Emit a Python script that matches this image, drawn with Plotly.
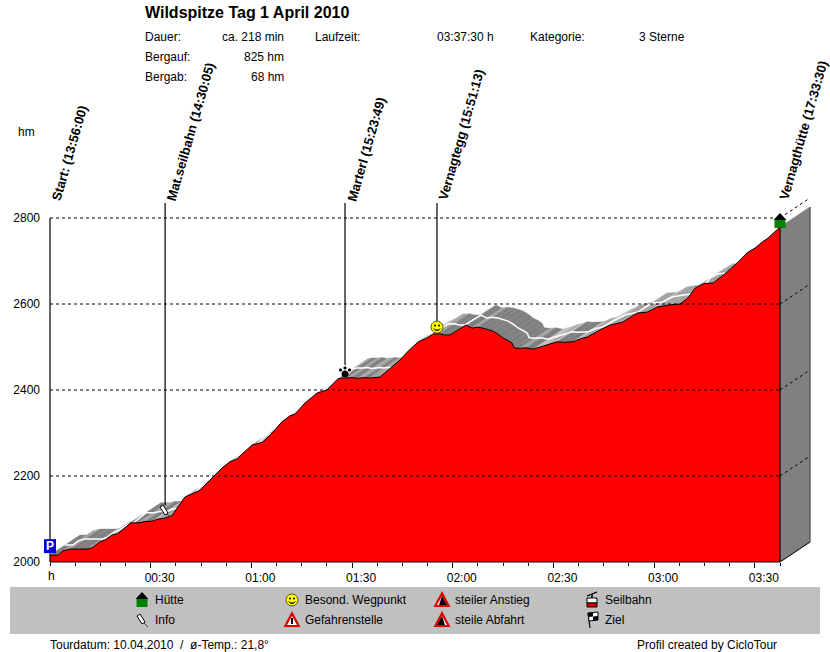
import math
import plotly.graph_objects as go

W, H = 830, 652
PXMIN = 730 / 217.5
PXM = 0.43

# --- data ---
minutes = [0, 2.4, 3.9, 6.0, 8.3, 11.0, 12.5, 14.9, 16.5, 18.5, 20.2, 21.8, 24.1, 26.2, 28.3, 30.4, 32.2, 34.3,
           36.4, 40.2, 42.3, 44.7, 48.6, 51.3, 53.6, 55.7, 57.5, 60.2, 63.5, 66.4, 69.1, 71.5, 73.0, 76.0,
           79.6, 82.5, 85.8, 87.0, 88.5, 90.0, 91.5, 92.4, 93.8, 95.0, 96.6, 98.3, 104.3, 106.4, 109.7, 112.0, 114.1,
           116.0, 117.5, 119.2, 121.6, 124.0, 125.7, 127.3, 129.0, 130.5, 132.0, 133.5, 135.0, 136.5, 137.7, 138.3,
           140.0, 141.8, 143.9, 146.0, 148.1, 149.5, 151.1, 153.0, 155.8, 158.0, 160.0, 163.9, 166.9, 170.7,
           174.9, 177.9, 180.9, 184.7, 187.7, 190.1, 192.2, 194.6, 197.6, 201.7, 204.7, 207.7, 210.1, 212.2,
           213.9, 217.5]
heights = [2016, 2016, 2026, 2030, 2030, 2030, 2033, 2047, 2052, 2063, 2066, 2077, 2091, 2091, 2094, 2095, 2100, 2102,
           2109, 2151, 2158, 2167, 2198, 2219, 2233, 2240, 2253, 2272, 2279, 2302, 2326, 2340, 2344, 2370,
           2393, 2400, 2426, 2428, 2428, 2429, 2427, 2428, 2429, 2428, 2429, 2430, 2470, 2488, 2512, 2520, 2530,
           2531, 2528, 2528, 2540, 2551, 2544, 2546, 2544, 2541, 2537, 2530, 2521, 2515, 2509, 2498,
           2497, 2498, 2495, 2500, 2505, 2508, 2512, 2511, 2512, 2519, 2523, 2540, 2551, 2558,
           2579, 2581, 2593, 2598, 2600, 2614, 2637, 2647, 2649, 2674, 2695, 2719, 2730, 2744,
           2753, 2779]
grid_heights = [2200, 2400, 2600, 2800]
y_ticks = [2000, 2200, 2400, 2600, 2800]
x_tick_vals = [30, 60, 90, 120, 150, 180, 210]
x_tick_labels = ["00:30", "01:00", "01:30", "02:00", "02:30", "03:00", "03:30"]
minor_ticks = [7.5 * i for i in range(0, 30)]
way_names = ["Start: (13:56:00)", "Mat.seilbahn (14:30:05)", "Marterl (15:23:49)",
             "Vernagtegg (15:51:13)", "Vernagthütte (17:33:30)"]
way_minutes = [0, 34.3, 87.9, 115.3, 217.5]
way_heights = [2016, 2102, 2428, 2530, 2779]

# perspective depth of the 3D surface, in axis units
DX = 30 / PXMIN
DY = 20 / PXM


def px(x):
    return x / W


def py(y):
    return 1 - y / H


def poly(pts):
    return "M" + " L".join(f"{a:.2f},{-b:.2f}" for a, b in pts) + " Z"


def circ(cx, cy, r, n=18):
    return poly([(cx + r * math.cos(2 * math.pi * i / n), cy + r * math.sin(2 * math.pi * i / n)) for i in range(n)])


# icon parts: (path in pixel offsets, y down; fill; line colour; line width)
ICONS = {
    "hut": [(poly([(0, -7), (6.5, 0), (-6.5, 0)]), "black", "black", 0),
            (poly([(-5.5, 0), (5.5, 0), (5.5, 8), (-5.5, 8)]), "#008000", "#008000", 0)],
    "smile": [(circ(0, 0, 6), "#ffff00", "#555500", 1),
              (circ(-2, -1.5, 1), "black", "black", 0),
              (circ(2, -1.5, 1), "black", "black", 0),
              (poly([(-3.5, 1.5), (-1.5, 3.5), (1.5, 3.5), (3.5, 1.5), (1.5, 2.7), (-1.5, 2.7)]), "black", "black", 0.5)],
    "paw": [(circ(0, 2, 3.5), "black", "black", 0),
            (circ(-4.5, -2, 1.6), "black", "black", 0),
            (circ(0, -4, 1.6), "black", "black", 0),
            (circ(4.5, -2, 1.6), "black", "black", 0)],
    "info": [(poly([(-5, -4), (-2, -6), (3, 2), (0, 4)]), "white", "black", 1),
             (poly([(2, 3), (6, 7), (2, 3)]), "black", "#444444", 1)],
    "danger": [(poly([(0, -9), (8.5, 7), (-8.5, 7)]), "#e00000", "#e00000", 0),
               (poly([(0, -4), (5, 5), (-5, 5)]), "white", "white", 0),
               (poly([(-1, -2), (1, -2), (1, 4), (-1, 4)]), "black", "black", 0)],
    "up": [(poly([(0, -9), (8.5, 7), (-8.5, 7)]), "#e00000", "#e00000", 0),
           (poly([(0, -4), (5, 5), (-5, 5)]), "white", "white", 0),
           (poly([(0, -4), (5, 5), (-3, 5)]), "black", "black", 0)],
    "down": [(poly([(0, -9), (8.5, 7), (-8.5, 7)]), "#e00000", "#e00000", 0),
             (poly([(0, -4), (5, 5), (-5, 5)]), "white", "white", 0),
             (poly([(0, -4), (3, 5), (-5, 5)]), "black", "black", 0)],
    "cable": [(poly([(-5, -4), (5, -8), (-5, -4)]), "black", "black", 1),
              (poly([(0, -6), (0, -2), (0, -6)]), "black", "black", 1),
              (poly([(-5, -2), (5, -2), (5, 3), (-5, 3)]), "white", "black", 1),
              (poly([(-5, 3), (5, 3), (5, 7), (-5, 7)]), "#e00000", "black", 1)],
    "flag": [(poly([(-4, -7), (-2, 8), (-4, -7)]), "black", "black", 1.2),
             (poly([(-4, -7), (6, -8), (6, 0), (-3, 1)]), "white", "black", 1),
             (poly([(-4, -7), (1, -7.5), (1, -3.5), (-3.5, -3)]), "black", "black", 0),
             (poly([(1, -3.5), (6, -4), (6, 0), (1, 0.5)]), "black", "black", 0)],
}


def icon(kind, xa, ya, xref="x", yref="y", dx=0, dy=0):
    out = []
    for path, fill, line, lw in ICONS[kind]:
        parts = []
        for tok in path.split(" "):
            head = tok[0] if tok[0] in "MLZ" else ""
            if tok == "Z":
                parts.append("Z")
                continue
            a, b = tok.lstrip("ML").split(",")
            parts.append(f"{head}{float(a) + dx:.2f},{float(b) + dy:.2f}")
        out.append(dict(type="path", xsizemode="pixel", ysizemode="pixel", xanchor=xa, yanchor=ya,
                        xref=xref, yref=yref, path=" ".join(parts), fillcolor=fill,
                        line=dict(color=line, width=lw), layer="above"))
    return out


fig = go.Figure()

# facets of the 3D surface behind the profile
for i in range(len(minutes) - 1):
    t0, t1 = minutes[i], minutes[i + 1]
    h0, h1 = heights[i], heights[i + 1]
    slope = (h1 - h0) / (t1 - t0)
    col = "#808080" if slope <= 0.5 else ("#a4a4a4" if slope < 2.2 else "#c0c0c0")
    fig.add_trace(go.Scatter(x=[t0, t1, t1 + DX, t0 + DX, t0], y=[h0, h1, h1 + DY, h0 + DY, h0],
                             mode="lines", fill="toself", fillcolor=col,
                             line=dict(color=col, width=0.4), hoverinfo="skip", showlegend=False))
# path in the middle of the surface
fig.add_trace(go.Scatter(x=[t + DX / 2 for t in minutes], y=[h + DY / 2 for h in heights], mode="lines",
                         line=dict(color="white", width=1.5), hoverinfo="skip", showlegend=False))
# side wall
fig.add_trace(go.Scatter(x=[minutes[-1], minutes[-1] + DX, minutes[-1] + DX, minutes[-1], minutes[-1]],
                         y=[y_ticks[0], y_ticks[0] + DY, heights[-1] + DY, heights[-1], y_ticks[0]],
                         mode="lines", fill="toself", fillcolor="#808080", line=dict(color="#808080", width=0.5),
                         hoverinfo="skip", showlegend=False))
# profile
fig.add_trace(go.Scatter(x=minutes, y=[y_ticks[0]] * len(minutes), mode="lines", line=dict(width=0),
                         hoverinfo="skip", showlegend=False))
fig.add_trace(go.Scatter(x=minutes, y=heights, mode="lines", fill="tonexty", fillcolor="#ff0000",
                         line=dict(color="black", width=1), showlegend=False))

shapes = []
LW = 1.2
# axes and wall edges
shapes.append(dict(type="line", x0=0, x1=0, y0=y_ticks[0], y1=y_ticks[-1], line=dict(color="black", width=LW)))
shapes.append(dict(type="line", x0=0, x1=minutes[-1], y0=y_ticks[0], y1=y_ticks[0], line=dict(color="black", width=LW)))
shapes.append(dict(type="line", x0=minutes[-1], x1=minutes[-1], y0=y_ticks[0], y1=heights[-1],
                   line=dict(color="black", width=LW)))
shapes.append(dict(type="line", x0=minutes[-1], x1=minutes[-1] + DX, y0=y_ticks[0], y1=y_ticks[0] + DY,
                   line=dict(color="black", width=1)))
shapes.append(dict(type="line", x0=minutes[-1] + DX, x1=minutes[-1] + DX, y0=y_ticks[0] + DY, y1=heights[-1] + DY,
                   line=dict(color="#404040", width=1)))
# grid
for g in grid_heights:
    shapes.append(dict(type="line", x0=0, x1=minutes[-1], y0=g, y1=g,
                       line=dict(color="black", width=1, dash="3px,3px")))
    shapes.append(dict(type="line", x0=minutes[-1], x1=minutes[-1] + DX, y0=g, y1=g + DY,
                       line=dict(color="black", width=1, dash="3px,3px")))
# leader lines to waypoints
for t, h in zip(way_minutes[1:4], way_heights[1:4]):
    shapes.append(dict(type="line", x0=t, x1=t, y0=h + 30, y1=2835, line=dict(color="black", width=LW)))

shapes += icon("info", way_minutes[1], way_heights[1], dy=7)
shapes += icon("paw", way_minutes[2], way_heights[2], dy=6)
shapes += icon("smile", way_minutes[3], way_heights[3], dy=7)
shapes += icon("hut", way_minutes[4], way_heights[4], dy=7)
# P marker
shapes.append(dict(type="rect", xsizemode="pixel", ysizemode="pixel", xanchor=way_minutes[0], yanchor=way_heights[0],
                   x0=-6, x1=6, y0=2, y1=16, fillcolor="#0000d8", line=dict(width=0), layer="above"))

# legend panel
shapes.append(dict(type="rect", xref="paper", yref="paper", x0=px(10), x1=px(820), y0=py(634), y1=py(587),
                   fillcolor="#c0c0c0", line=dict(width=0), layer="below"))
legend_items = [("hut", "Hütte", 142, 600), ("info", "Info", 142, 620),
                ("smile", "Besond. Wegpunkt", 292, 600), ("danger", "Gefahrenstelle", 292, 620),
                ("up", "steiler Anstieg", 442, 600), ("down", "steile Abfahrt", 442, 620),
                ("cable", "Seilbahn", 592, 600), ("flag", "Ziel", 592, 620)]
for kind, _, lx, ly in legend_items:
    shapes += icon(kind, px(lx), py(ly), xref="paper", yref="paper", dy=(1 if kind == "hut" else 0))


def txt(s, x, y, anchor="left", size=12, bold=False):
    return dict(text=f"<b>{s}</b>" if bold else s, xref="paper", yref="paper", x=px(x - 1 if anchor == "left" else x),
                y=py(y), xanchor=anchor, yanchor="middle", showarrow=False, borderpad=0,
                font=dict(family="Liberation Sans", size=size, color="black"))


ann = [
    txt("Wildspitze Tag 1 April 2010", 145, 13, size=16, bold=True),
    txt("Dauer:", 145, 37), txt("ca. 218 min", 285, 37, "right"), txt("Laufzeit:", 315, 37),
    txt("03:37:30 h", 437, 37), txt("Kategorie:", 530, 37), txt("3 Sterne", 639, 37),
    txt("Bergauf:", 145, 57), txt("825 hm", 285, 57, "right"),
    txt("Bergab:", 145, 77), txt("68 hm", 285, 77, "right"),
    txt("hm", 18, 132),
    txt("h", 51, 576, "center"),
    txt("Tourdatum: 10.04.2010  /  ø-Temp.: 21,8°", 50, 645),
    txt("Profil created by CicloTour", 637, 645),
]
for _, name, lx, ly in legend_items:
    ann.append(txt(name, lx + 13, ly))

# P letter
ann.append(dict(text="<b>P</b>", x=way_minutes[0], y=way_heights[0], xref="x", yref="y", yshift=9, showarrow=False,
                font=dict(family="Liberation Sans", size=12, color="white"), xanchor="center", yanchor="middle",
                borderpad=0))

# rotated waypoint labels
label_shift = [(19, 65), (25, 86), (21, 69), (24, 84), (23, 88)]
for name, t, (sx, sy) in zip(way_names, way_minutes, label_shift):
    ann.append(dict(text=f"<b>{name}</b>", x=t, y=grid_heights[-1], xref="x", yref="y", xshift=sx, yshift=sy,
                    textangle=-74, showarrow=False, xanchor="center", yanchor="middle",
                    font=dict(family="Liberation Sans", size=13, color="black")))

fig.update_layout(
    width=W, height=H, margin=dict(l=0, r=0, t=0, b=0), autosize=False,
    paper_bgcolor="white", plot_bgcolor="white", showlegend=False,
    shapes=shapes, annotations=ann,
    xaxis=dict(range=[-50 / PXMIN, 780 / PXMIN], domain=[0, 1], anchor="free", position=90 / H, showgrid=False,
               zeroline=False, showline=False, tickmode="array", tickvals=[0] + x_tick_vals,
               ticktext=[""] + x_tick_labels, ticks="outside", ticklen=5, tickcolor="black", tickwidth=1,
               ticklabelshift=9, tickfont=dict(family="Liberation Sans", size=12, color="black"),
               minor=dict(tickmode="array", tickvals=minor_ticks, ticks="outside", ticklen=3, tickcolor="black",
                          tickwidth=1, showgrid=False)),
    yaxis=dict(range=[2000 - 90 / PXM, 2000 + 562 / PXM], domain=[0, 1], anchor="free", position=50 / W,
               showgrid=False, zeroline=False, showline=False, tickmode="array", tickvals=y_ticks,
               ticks="", ticklabelstandoff=10, tickfont=dict(family="Liberation Sans", size=12, color="black")),
)

fig.write_html("out.html", config={"displayModeBar": False},
               post_script="document.body.style.margin='0';document.documentElement.style.overflow='hidden';")
